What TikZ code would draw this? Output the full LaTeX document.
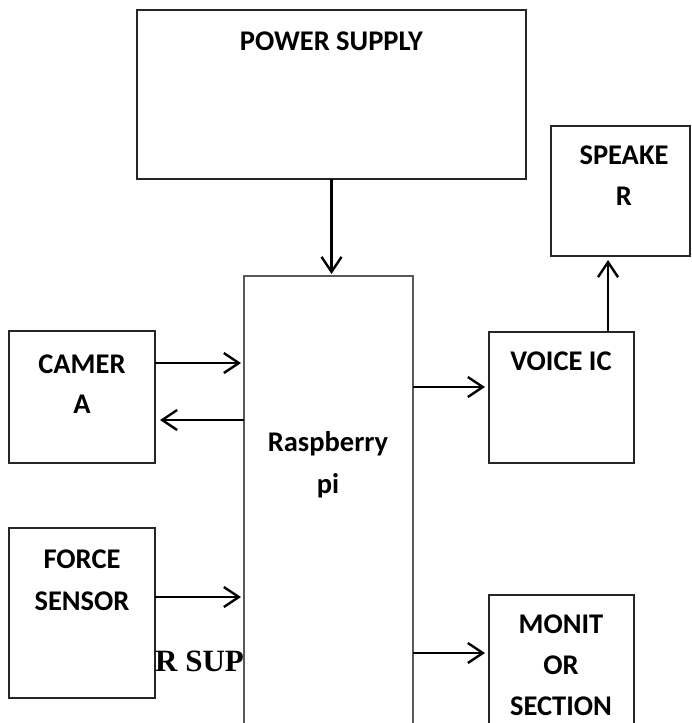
\documentclass[tikz,border=0pt]{standalone}
\usepackage{fontspec}
\setmainfont{Carlito}
\newfontfamily\timesb{Liberation Serif}
\usetikzlibrary{arrows.meta}
\begin{document}
\begin{tikzpicture}[x=1pt,y=-1pt,
 box/.style={draw=black!85, line width=1.6pt, inner sep=0pt, outer sep=0pt, anchor=north west},
 lbl/.style={font=\fontsize{28.5}{34}\selectfont\bfseries, anchor=base, inner sep=0pt},
 arr/.style={line width=2.4pt, -{Straight Barb[length=15pt,width=20pt,line width=2.4pt]}}]
\useasboundingbox (0,0) rectangle (691,723);
\clip (0,0) rectangle (691,723);
% boxes
\node[box, minimum width=389pt, minimum height=169pt] (ps) at (137,10) {};
\node[box, draw=black!65, minimum width=169pt, minimum height=480pt] (rpi) at (244,276) {};
\node[box, minimum width=146pt, minimum height=132pt] (cam) at (9,331) {};
\node[box, minimum width=146pt, minimum height=170pt] (fs) at (9,528) {};
\node[box, minimum width=145pt, minimum height=131pt] (vic) at (489,332) {};
\node[box, minimum width=145pt, minimum height=160pt] (mon) at (489,595) {};
\node[box, minimum width=139pt, minimum height=130pt] (spk) at (551,126) {};
% texts
\node[lbl] (tps) at (331.5,50) {POWER SUPPLY};
\node[lbl] (tsp1) at (624,164) {SPEAKE};
\node[lbl] (tsp2) at (624,205) {R};
\node[lbl] (tc1) at (82,373) {CAMER};
\node[lbl] (tc2) at (82,413) {A};
\node[lbl] (tf1) at (82,568) {FORCE};
\node[lbl] (tf2) at (82,610) {SENSOR};
\node[lbl] (tr1) at (328,451) {Raspberry};
\node[lbl] (tr2) at (328,493) {pi};
\node[lbl] (tv) at (561,370) {VOICE IC};
\node[lbl] (tm1) at (561,633) {MONIT};
\node[lbl] (tm2) at (561,674) {OR};
\node[lbl] (tm3) at (561,715) {SECTION};
\node[anchor=base west, inner sep=0pt, font=\timesb\bfseries\fontsize{31}{36}\selectfont] (trs) at (155,671) {R SUP};
% connector points
\coordinate (a1) at ([yshift=-32pt]cam.north east);
\coordinate (a2) at ([yshift=-89pt]cam.north east);
\coordinate (a3) at ([yshift=-69pt]fs.north east);
\coordinate (a4) at ([yshift=-55pt]vic.north west);
\coordinate (a5) at ([yshift=-58pt]mon.north west);
\coordinate (a6) at ([xshift=119pt]vic.north west);
\coordinate (a7) at ([xshift=57pt]spk.south west);
% connectors
\draw[arr, shorten >=2pt] (ps.south) -- (ps.south |- rpi.north);
\draw[arr, shorten >=3pt] (a1) -- (a1 -| rpi.west);
\draw[arr, shorten >=5pt] (a2 -| rpi.west) -- (a2);
\draw[arr, shorten >=3pt] (a3) -- (a3 -| rpi.west);
\draw[arr, shorten >=4pt] (a4 -| rpi.east) -- (a4);
\draw[arr, shorten >=4pt] (a5 -| rpi.east) -- (a5);
\draw[arr, shorten >=4pt] (a6) -- (a7);
\end{tikzpicture}
\end{document}
